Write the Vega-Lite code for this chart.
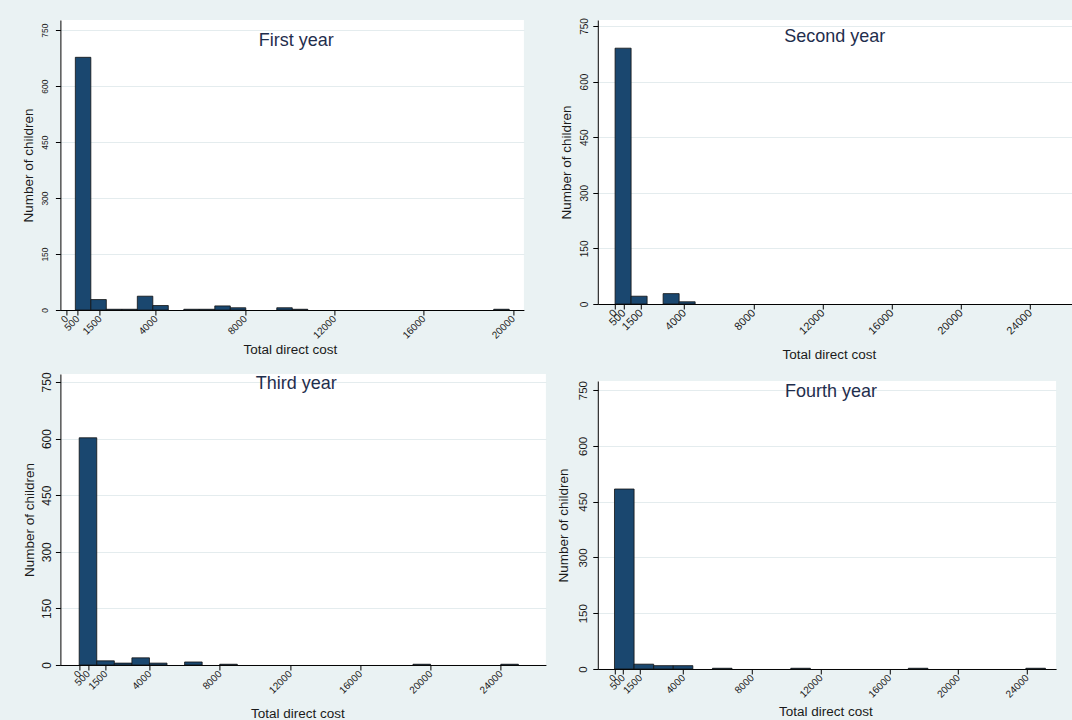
{
  "$schema": "https://vega.github.io/schema/vega-lite/v6.json",
  "background": "#EAF2F3",
  "padding": {"left": 21.4, "top": 17, "right": 0, "bottom": 0},
  "config": {
    "font": "Liberation Sans",
    "view": {"fill": "white", "stroke": null},
    "axis": {
      "domainColor": "#000000",
      "domainWidth": 1,
      "tickColor": "#000000",
      "tickWidth": 1,
      "tickSize": 5,
      "labelColor": "#1a1a1a",
      "titleColor": "#1a1a1a",
      "labelFont": "Liberation Sans",
      "titleFont": "Liberation Sans",
      "titleFontWeight": "normal",
      "titleFontSize": 13.5,
      "labelOverlap": false,
      "labelFlush": false,
      "format": "d"
    },
    "axisX": {"grid": false, "labelAngle": -45, "labelAlign": "right", "labelBaseline": "middle"},
    "axisY": {"grid": true, "gridColor": "#E4ECEE", "gridWidth": 1, "labelAngle": 270, "labelAlign": "center", "labelBaseline": "bottom"},
    "title": {"fontSize": 18, "fontWeight": "normal", "color": "#1F2E4D", "frame": "group", "anchor": "middle"},
    "bar": {"fill": "#1A476F", "stroke": "#111111", "strokeWidth": 0.8}
  },
  "datasets": {
    "first": [
      {"lo": 400, "hi": 1094, "n": 677},
      {"lo": 1094, "hi": 1788, "n": 28},
      {"lo": 1788, "hi": 2482, "n": 2},
      {"lo": 2482, "hi": 3176, "n": 2},
      {"lo": 3176, "hi": 3870, "n": 37},
      {"lo": 3870, "hi": 4564, "n": 12},
      {"lo": 5258, "hi": 5952, "n": 2},
      {"lo": 5952, "hi": 6646, "n": 2},
      {"lo": 6646, "hi": 7340, "n": 11},
      {"lo": 7340, "hi": 8034, "n": 6},
      {"lo": 9422, "hi": 10116, "n": 6},
      {"lo": 10116, "hi": 10810, "n": 2},
      {"lo": 19138, "hi": 19832, "n": 2}
    ],
    "second": [
      {"lo": 0, "hi": 926, "n": 690},
      {"lo": 926, "hi": 1852, "n": 21},
      {"lo": 2778, "hi": 3704, "n": 28},
      {"lo": 3704, "hi": 4630, "n": 6}
    ],
    "third": [
      {"lo": 0, "hi": 1000, "n": 602},
      {"lo": 1000, "hi": 2000, "n": 11},
      {"lo": 2000, "hi": 3000, "n": 5},
      {"lo": 3000, "hi": 4000, "n": 19},
      {"lo": 4000, "hi": 5000, "n": 5},
      {"lo": 6000, "hi": 7000, "n": 8},
      {"lo": 8000, "hi": 9000, "n": 2},
      {"lo": 19000, "hi": 20000, "n": 2},
      {"lo": 24000, "hi": 25000, "n": 2}
    ],
    "fourth": [
      {"lo": 0, "hi": 1140, "n": 484},
      {"lo": 1140, "hi": 2280, "n": 13},
      {"lo": 2280, "hi": 3420, "n": 9},
      {"lo": 3420, "hi": 4560, "n": 9},
      {"lo": 5700, "hi": 6840, "n": 2},
      {"lo": 10260, "hi": 11400, "n": 2},
      {"lo": 17100, "hi": 18240, "n": 2},
      {"lo": 23940, "hi": 25080, "n": 2}
    ]
  },
  "resolve": {"scale": {"x": "independent", "y": "independent"}},
  "spacing": 9.4,
  "hconcat": [
    {
      "spacing": 15,
      "resolve": {"scale": {"x": "independent", "y": "independent"}},
      "vconcat": [
        {
          "width": 463.5,
          "height": 290,
          "data": {"name": "first"},
          "title": {"text": "First year", "offset": -30, "dx": 4},
          "mark": {"type": "bar"},
          "encoding": {
            "x": {
              "field": "lo", "type": "quantitative",
              "scale": {"domain": [-269, 20490], "nice": false, "zero": false},
              "axis": {"values": [0, 500, 1500, 4000, 8000, 12000, 16000, 20000], "title": "Total direct cost", "labelFontSize": 10, "labelPadding": 2, "minExtent": 24, "maxExtent": 24, "titlePadding": 8, "titleX": 229.5}
            },
            "x2": {"field": "hi"},
            "y": {
              "field": "n", "type": "quantitative",
              "scale": {"domain": [0, 777], "nice": false},
              "axis": {"values": [0, 150, 300, 450, 600, 750], "title": "Number of children", "labelFontSize": 8.5, "labelPadding": 5.7, "minExtent": 16, "maxExtent": 16, "titlePadding": 8.6}
            },
            "y2": {"datum": 0}
          }
        },
        {
          "width": 485.5,
          "height": 291,
          "data": {"name": "third"},
          "title": {"text": "Third year", "offset": -21, "dx": -7},
          "mark": {"type": "bar"},
          "encoding": {
            "x": {
              "field": "lo", "type": "quantitative",
              "scale": {"domain": [-1070, 26567], "nice": false, "zero": false},
              "axis": {"values": [0, 500, 1500, 4000, 8000, 12000, 16000, 20000, 24000], "title": "Total direct cost", "labelFontSize": 10, "labelPadding": 2, "minExtent": 32, "maxExtent": 32, "titlePadding": 10, "titleX": 237}
            },
            "x2": {"field": "hi"},
            "y": {
              "field": "n", "type": "quantitative",
              "scale": {"domain": [0, 771], "nice": false},
              "axis": {"values": [0, 150, 300, 450, 600, 750], "title": "Number of children", "labelFontSize": 12, "labelPadding": 2, "minExtent": 16, "maxExtent": 16, "titlePadding": 7.6}
            },
            "y2": {"datum": 0}
          }
        }
      ]
    },
    {
      "spacing": 19,
      "resolve": {"scale": {"x": "independent", "y": "independent"}},
      "vconcat": [
        {
          "width": 477,
          "height": 284,
          "data": {"name": "second"},
          "title": {"text": "Second year", "offset": -28, "dx": -1.5},
          "mark": {"type": "bar"},
          "encoding": {
            "x": {
              "field": "lo", "type": "quantitative",
              "scale": {"domain": [-1000, 26585], "nice": false, "zero": false},
              "axis": {"values": [0, 500, 1500, 4000, 8000, 12000, 16000, 20000, 24000], "title": "Total direct cost", "labelFontSize": 11, "labelPadding": 2, "minExtent": 32, "maxExtent": 32, "titlePadding": 11, "titleX": 231}
            },
            "x2": {"field": "hi"},
            "y": {
              "field": "n", "type": "quantitative",
              "scale": {"domain": [0, 766], "nice": false},
              "axis": {"values": [0, 150, 300, 450, 600, 750], "title": "Number of children", "labelFontSize": 10, "labelPadding": 3, "minExtent": 16, "maxExtent": 16, "titlePadding": 8.1}
            },
            "y2": {"datum": 0}
          }
        },
        {
          "width": 458.3,
          "height": 288,
          "data": {"name": "fourth"},
          "title": {"text": "Fourth year", "offset": -20, "dx": 4},
          "mark": {"type": "bar"},
          "encoding": {
            "x": {
              "field": "lo", "type": "quantitative",
              "scale": {"domain": [-972, 25700], "nice": false, "zero": false},
              "axis": {"values": [0, 500, 1500, 4000, 8000, 12000, 16000, 20000, 24000], "title": "Total direct cost", "labelFontSize": 10, "labelPadding": 2, "minExtent": 28, "maxExtent": 28, "titlePadding": 8, "titleX": 227.5}
            },
            "x2": {"field": "hi"},
            "y": {
              "field": "n", "type": "quantitative",
              "scale": {"domain": [0, 774.5], "nice": false},
              "axis": {"values": [0, 150, 300, 450, 600, 750], "title": "Number of children", "labelFontSize": 11.5, "labelPadding": 4.6, "minExtent": 18, "maxExtent": 18, "titlePadding": 9.1}
            },
            "y2": {"datum": 0}
          }
        }
      ]
    }
  ]
}
